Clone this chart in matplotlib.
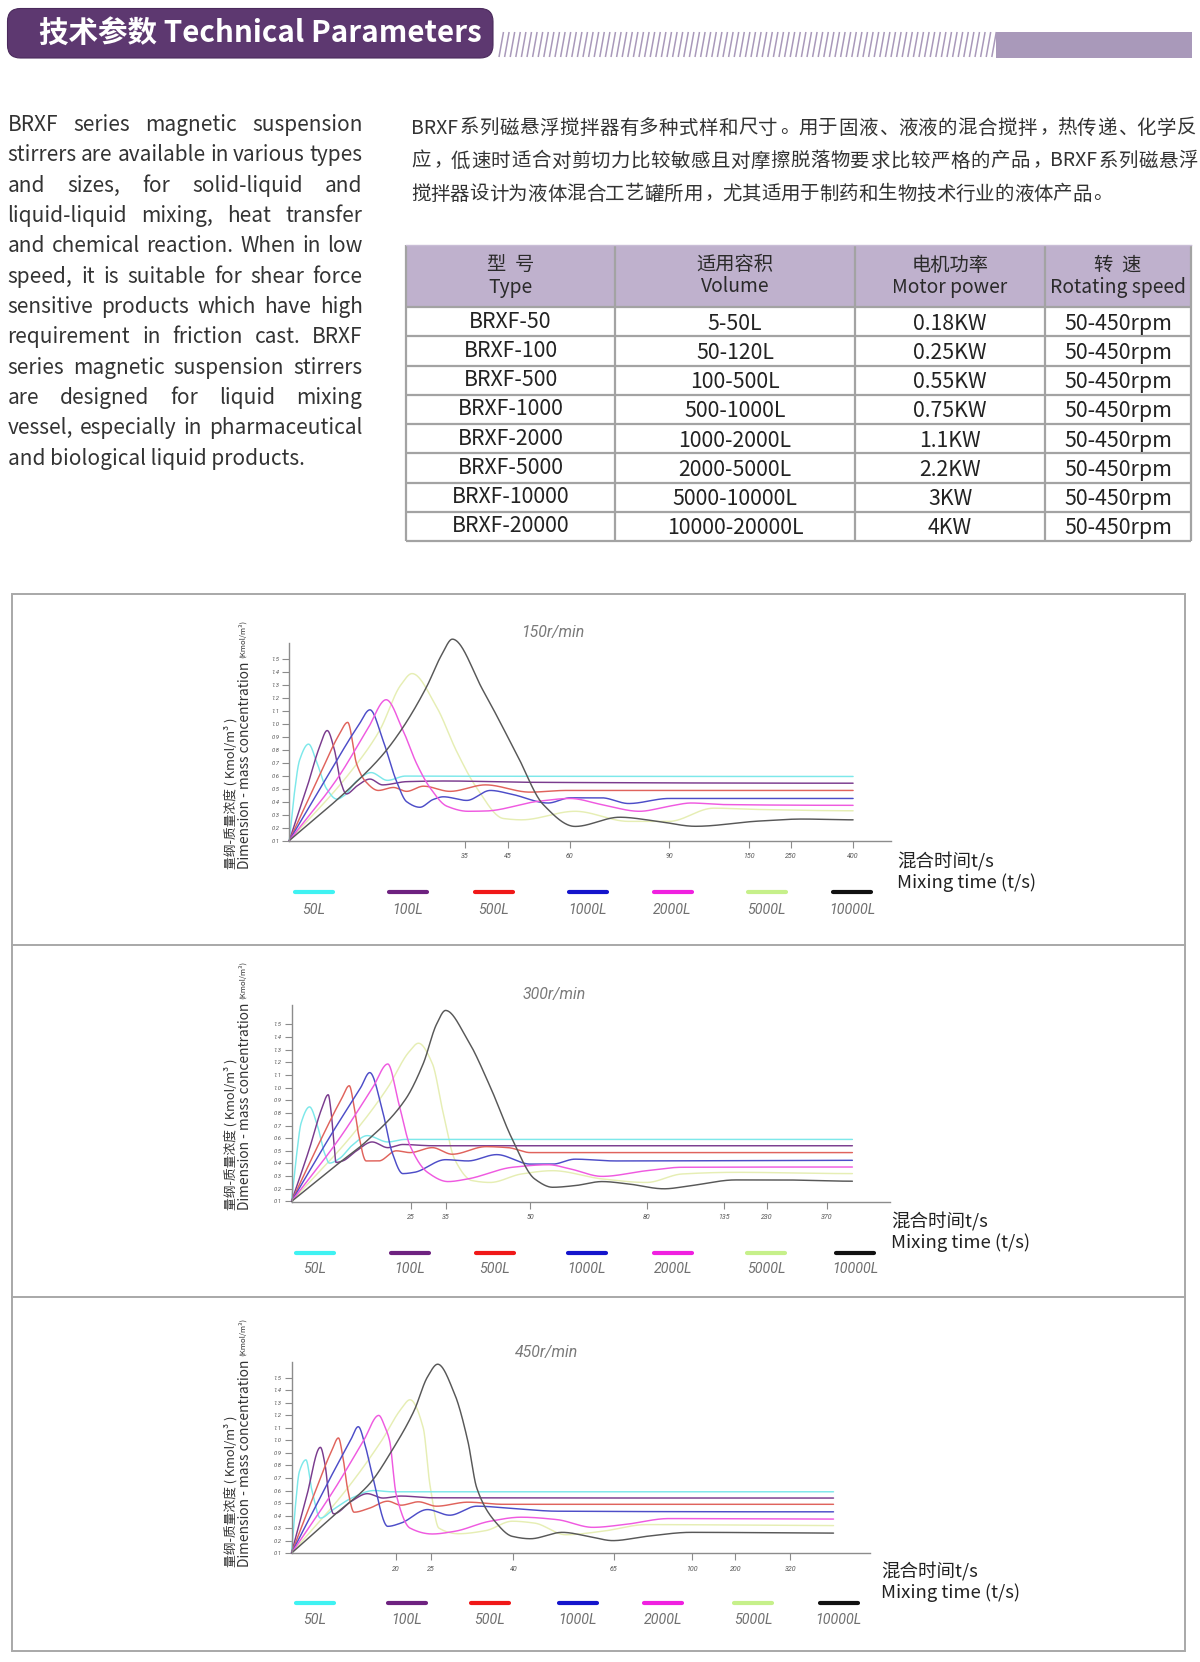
import re
import numpy as np
import matplotlib
matplotlib.use("Agg")
import matplotlib.pyplot as plt
from matplotlib.patches import FancyBboxPatch, Rectangle
from matplotlib.collections import LineCollection

# ------------------------------------------------------------------ data
HEADER_TITLE = "技术参数 Technical Parameters"

EN_LINES = [
    "BRXF series magnetic suspension",
    "stirrers are available in various types",
    "and sizes, for solid-liquid and",
    "liquid-liquid mixing, heat transfer",
    "and chemical reaction. When in low",
    "speed, it is suitable for shear force",
    "sensitive products which have high",
    "requirement in friction cast. BRXF",
    "series magnetic suspension stirrers",
    "are designed for liquid mixing",
    "vessel, especially in pharmaceutical",
    "and biological liquid products.",
]
CN_LINES = [
    "BRXF系列磁悬浮搅拌器有多种式样和尺寸。用于固液、液液的混合搅拌，热传递、化学反",
    "应，低速时适合对剪切力比较敏感且对摩擦脱落物要求比较严格的产品， BRXF系列磁悬浮",
    "搅拌器设计为液体混合工艺罐所用，尤其适用于制药和生物技术行业的液体产品。",
]

HEAD_CN = ["型  号", "适用容积", "电机功率", "转  速"]
HEAD_EN = ["Type", "Volume", "Motor power", "Rotating speed"]
MODEL = ["BRXF-50", "BRXF-100", "BRXF-500", "BRXF-1000", "BRXF-2000",
         "BRXF-5000", "BRXF-10000", "BRXF-20000"]
VOLUME = ["5-50L", "50-120L", "100-500L", "500-1000L", "1000-2000L",
          "2000-5000L", "5000-10000L", "10000-20000L"]
POWER = ["0.18KW", "0.25KW", "0.55KW", "0.75KW", "1.1KW", "2.2KW", "3KW", "4KW"]
SPEED = ["50-450rpm"] * 8

SERIES = ["50L", "100L", "500L", "1000L", "2000L", "5000L", "10000L"]
Y_TICKS = [0.1, 0.2, 0.3, 0.4, 0.5, 0.6, 0.7, 0.8, 0.9, 1.0, 1.1, 1.2, 1.3, 1.4, 1.5]

X_LAB_150 = ["35", "45", "60", "90", "150", "250", "400"]
X_POS_150 = [29.2, 36.3, 46.6, 63.1, 76.4, 83.4, 93.7]
X_LAB_300 = ["25", "35", "50", "80", "135", "230", "370"]
X_POS_300 = [19.9, 25.6, 39.7, 59.0, 71.8, 79.0, 89.0]
X_LAB_450 = ["20", "25", "40", "65", "100", "200", "320"]
X_POS_450 = [17.4, 23.2, 36.9, 53.6, 66.6, 73.8, 82.9]

# curves: (position on axis, concentration)
c150_50L = [(0, 0.1), (0.8, 0.45), (1.7, 0.72), (3.2, 0.845), (4.6, 0.7), (6.2, 0.5), (7.9, 0.42),
            (9.2, 0.45), (11.2, 0.56), (13.6, 0.625), (16.3, 0.565), (19.3, 0.598), (26, 0.597), (93.7, 0.595)]
c150_100L = [(0, 0.1), (3.0, 0.52), (5.0, 0.82), (6.3, 0.95), (7.5, 0.8), (8.5, 0.56), (9.5, 0.46),
             (11.2, 0.52), (13.4, 0.575), (15.5, 0.53), (19.5, 0.555), (26, 0.56), (40, 0.55), (93.7, 0.543)]
c150_500L = [(0, 0.1), (5, 0.6), (8.3, 0.92), (9.7, 1.013), (11.2, 0.69), (12.6, 0.56), (14.8, 0.487),
             (17.3, 0.51), (19.5, 0.48), (22.3, 0.52), (26.7, 0.48), (32.6, 0.53), (40, 0.474), (46, 0.487),
             (93.7, 0.487)]
c150_1000L = [(0, 0.1), (7, 0.65), (11.5, 0.99), (13.4, 1.11), (15.6, 0.87), (17.8, 0.56), (19.5, 0.40),
              (21.7, 0.357), (23.9, 0.417), (25.6, 0.438), (29.5, 0.41), (33.4, 0.487), (37.1, 0.456),
              (43, 0.39), (46.7, 0.43), (51.9, 0.43), (56.4, 0.386), (63.1, 0.425), (93.7, 0.425)]
c150_2000L = [(0, 0.1), (8, 0.58), (13, 0.96), (16.1, 1.188), (18.9, 0.95), (21.2, 0.69), (23.4, 0.507),
              (26.2, 0.365), (29.7, 0.326), (32.6, 0.328), (41.5, 0.404), (46.7, 0.425), (51.9, 0.378),
              (58.2, 0.326), (63.1, 0.365), (66.8, 0.39), (72, 0.378), (93.7, 0.372)]
c150_5000L = [(0, 0.1), (10, 0.62), (15, 0.95), (18.5, 1.3), (20.4, 1.39), (24.5, 1.13), (27.8, 0.79),
              (31.1, 0.51), (35.6, 0.27), (38.6, 0.26), (47.5, 0.326), (56.4, 0.248), (63.1, 0.248),
              (70.5, 0.35), (77.9, 0.34), (93.7, 0.33)]
c150_10000L = [(0, 0.1), (10.1, 0.507), (15.6, 0.767), (18.9, 0.975), (22.8, 1.286), (25.3, 1.533),
               (27.1, 1.656), (32.2, 1.26), (37.8, 0.767), (42.2, 0.378), (47.5, 0.209), (54.9, 0.28),
               (61, 0.25), (67.5, 0.21), (77.9, 0.25), (85.3, 0.266), (93.7, 0.26)]

c300_50L = [(0, 0.1), (0.8, 0.45), (1.6, 0.72), (3.0, 0.847), (4.3, 0.7), (5.5, 0.48), (6.3, 0.403),
            (8, 0.44), (10, 0.54), (12.6, 0.62), (16, 0.57), (18.9, 0.59), (25, 0.59), (93.2, 0.59)]
c300_100L = [(0, 0.1), (3, 0.52), (5, 0.83), (6.1, 0.943), (6.6, 0.8), (7.0, 0.59), (7.4, 0.408),
             (8.5, 0.42), (10.8, 0.5), (13.4, 0.57), (16, 0.525), (18.5, 0.55), (23.4, 0.54), (93.2, 0.54)]
c300_500L = [(0, 0.1), (5, 0.6), (8.3, 0.91), (9.6, 1.014), (10.4, 0.85), (11.1, 0.64), (12.4, 0.42),
             (14.5, 0.42), (17.4, 0.5), (19.7, 0.486), (23.4, 0.525), (26.7, 0.473), (32.3, 0.533),
             (36, 0.525), (39.7, 0.486), (93.2, 0.486)]
c300_1000L = [(0, 0.1), (7, 0.66), (11.5, 1.0), (13, 1.118), (15.2, 0.8), (16.7, 0.49), (18.5, 0.32),
              (20.4, 0.33), (25.6, 0.43), (29.3, 0.42), (34.1, 0.47), (39.7, 0.395), (43.4, 0.395),
              (47.1, 0.434), (53.8, 0.42), (93.2, 0.425)]
c300_2000L = [(0, 0.1), (8, 0.6), (13.5, 1.0), (16, 1.186), (17.8, 0.88), (19.7, 0.54), (22.6, 0.33),
              (26, 0.257), (29.3, 0.278), (36.7, 0.37), (42.7, 0.39), (46.4, 0.356), (51.6, 0.298),
              (59, 0.343), (64.9, 0.37), (93.2, 0.372)]
c300_5000L = [(0, 0.1), (10, 0.62), (16, 1.0), (19.5, 1.28), (21.1, 1.35), (23.4, 1.19), (25.2, 0.8),
              (27.1, 0.434), (30, 0.265), (33, 0.25), (38.2, 0.317), (43.4, 0.343), (51.6, 0.278),
              (59, 0.25), (64.9, 0.317), (73.8, 0.33), (93.2, 0.32)]
c300_10000L = [(0, 0.1), (7, 0.37), (12.2, 0.565), (18.9, 0.904), (21.9, 1.19), (24.1, 1.5), (25.6, 1.609),
               (29.3, 1.374), (33, 1.008), (36.7, 0.59), (40.4, 0.278), (43.4, 0.212), (47.1, 0.225),
               (51.6, 0.257), (56, 0.238), (61.9, 0.2), (66.4, 0.225), (73.8, 0.27), (81.2, 0.27),
               (93.2, 0.26)]

c450_50L = [(0, 0.1), (0.6, 0.45), (1.3, 0.75), (2.4, 0.845), (3.4, 0.6), (4.8, 0.38), (7, 0.45),
            (10, 0.54), (13.7, 0.6), (16.7, 0.59), (22, 0.59), (90.1, 0.59)]
c450_100L = [(0, 0.1), (2.5, 0.55), (4.8, 0.945), (5.6, 0.8), (6.3, 0.52), (7, 0.414), (10, 0.516),
             (12.6, 0.575), (15.2, 0.54), (18.2, 0.556), (23.4, 0.542), (90.1, 0.54)]
c450_500L = [(0, 0.1), (4, 0.6), (6.7, 0.92), (7.8, 1.02), (8.6, 0.85), (9.3, 0.62), (10.4, 0.427),
             (13, 0.46), (16, 0.515), (18.2, 0.483), (21.1, 0.51), (24.1, 0.475), (29.3, 0.507),
             (35.2, 0.49), (90.1, 0.49)]
c450_1000L = [(0, 0.1), (6, 0.66), (9.8, 1.0), (11.1, 1.11), (12.3, 0.95), (13.4, 0.73), (16, 0.314),
              (18.2, 0.34), (22.6, 0.448), (26.3, 0.403), (30.8, 0.475), (36.7, 0.457), (44.1, 0.435),
              (90.1, 0.43)]
c450_2000L = [(0, 0.1), (7, 0.6), (12, 1.0), (14.5, 1.2), (15.6, 1.1), (16.3, 1.0), (17.4, 0.57),
              (19.7, 0.3), (23.4, 0.253), (27.1, 0.274), (33, 0.355), (38.2, 0.387), (44.1, 0.368),
              (50.1, 0.306), (55.3, 0.328), (62.7, 0.376), (90.1, 0.372)]
c450_5000L = [(0, 0.1), (9, 0.6), (15, 1.0), (18.2, 1.25), (19.7, 1.325), (21.9, 1.1), (23, 0.65),
              (24.5, 0.3), (27.8, 0.255), (32.3, 0.28), (36.7, 0.355), (40.4, 0.34), (45.6, 0.247),
              (51.6, 0.274), (59, 0.328), (90.1, 0.32)]
c450_10000L = [(0, 0.1), (7, 0.40), (13, 0.655), (16.7, 0.92), (20.4, 1.24), (22.6, 1.507), (24.3, 1.609),
               (27.1, 1.373), (29.3, 0.998), (30.8, 0.62), (33.8, 0.355), (36.7, 0.234), (39.7, 0.215),
               (45, 0.266), (49.4, 0.234), (53.4, 0.2), (59, 0.234), (66.4, 0.266), (90.1, 0.26)]

# ------------------------------------------------------------------ styles
LINE_COLORS = ['#7de8ea', '#7a3b8e', '#e0635c', '#4d4dc8', '#ef5ae0', '#e6eeb4', '#585858']
LEGEND_COLORS = ['#3ff2f2', '#6e2280', '#f01818', '#1414cc', '#f020e0', '#c6f08a', '#111111']
DRAW_ORDER = [5, 0, 1, 2, 3, 4, 6]
CJK = ['Noto Sans CJK SC', 'DejaVu Sans']
PURPLE = '#5d3870'
STRIPE = '#a999ba'

W, H = 1200, 1662
fig = plt.figure(figsize=(12, 16.62), dpi=100)
fig.patch.set_facecolor('white')
bg = fig.add_axes([0, 0, 1, 1])
bg.set_xlim(0, W)
bg.set_ylim(H, 0)
bg.axis('off')
R = fig.canvas.get_renderer()


def width_of(t):
    return t.get_window_extent(R).width


def fit_text(x, y, s, width, size0=10, rot=0, **kw):
    t = bg.text(x, y, s, fontsize=size0, **kw)
    t.set_fontsize(size0 * width / width_of(t))
    if rot:
        t.set_rotation(rot)
    return t


# ------------------------------------------------------------------ header bar
bg.add_patch(FancyBboxPatch((7.5, 8.5), 485.5, 49.5, boxstyle="round,pad=0,rounding_size=13",
                            fc=PURPLE, ec='#4a2a5c', lw=0.8))
fit_text(39, 33, HEADER_TITLE, 444, family=CJK, weight='bold', color='white', ha='left', va='center')
segs = []
xs = 499.0
while xs < 993:
    segs.append([(xs, 57), (xs + 4.5, 32)])
    xs += 5.6
bg.add_collection(LineCollection(segs, colors=STRIPE, linewidths=1.1))
bg.add_patch(Rectangle((996, 32), 196, 25.5, fc=STRIPE, ec='none'))

# ------------------------------------------------------------------ English paragraph
EN_FAM = ['Noto Sans CJK SC', 'DejaVu Sans']
X0, X1 = 7.5, 362.5
probe = bg.text(0, 0, EN_LINES[-1], fontsize=10, family=EN_FAM)
size_en = 10 * 299 / width_of(probe)
probe.remove()
for ln in EN_LINES[:-1]:
    words = ln.split()
    tot = 0
    for w in words:
        tt = bg.text(0, 0, w, fontsize=10, family=EN_FAM)
        tot += width_of(tt)
        tt.remove()
    em10 = 10 * 100 / 72
    need = tot + (len(words) - 1) * 0.22 * em10
    size_en = min(size_en, 10 * (X1 - X0) / need)

for i, ln in enumerate(EN_LINES):
    yb = 131 + 30.33 * i
    if i == len(EN_LINES) - 1:
        bg.text(X0, yb, ln, fontsize=size_en, family=EN_FAM, color='#333333', ha='left', va='baseline')
        continue
    words = ln.split()
    ts, ws = [], []
    for w in words:
        t = bg.text(X0, yb, w, fontsize=size_en, family=EN_FAM, color='#333333', ha='left', va='baseline')
        ts.append(t)
        ws.append(width_of(t))
    gap = (X1 - X0 - sum(ws)) / (len(words) - 1)
    x = X0
    for t, w in zip(ts, ws):
        t.set_x(x)
        x += w + gap

# ------------------------------------------------------------------ Chinese paragraph
CN_SIZE = 14.0
EM = CN_SIZE * 100 / 72
PUNCT = "，。、；："


def cjk_line(s, x0, x1, yb, justify):
    toks = re.findall(r'[A-Za-z0-9]+|\S', s)
    items = []
    for tk in toks:
        if re.match(r'[A-Za-z0-9]+$', tk):
            t = bg.text(0, yb, tk, fontsize=CN_SIZE, family=CJK, color='#333333', ha='left', va='baseline')
            items.append((t, width_of(t) + 0.06 * EM, 'latin'))
        else:
            kind = 'punct' if tk in PUNCT else 'cjk'
            t = bg.text(0, yb, tk, fontsize=CN_SIZE, family=CJK, color='#333333',
                        ha='center' if kind == 'cjk' else 'left', va='baseline')
            items.append((t, EM, kind))
    total = sum(w for _, w, _ in items)
    gap = (x1 - x0 - total) / (len(items) - 1) if justify else 0
    x = x0
    for t, w, kind in items:
        if kind == 'cjk':
            t.set_x(x + w / 2)
        elif kind == 'punct':
            t.set_x(x + 0.1 * EM)
        else:
            t.set_x(x + 0.02 * EM)
        x += w + gap


cjk_line(CN_LINES[0], 411, 1196, 133.5, True)
cjk_line(CN_LINES[1], 411, 1198, 166.5, True)
cjk_line(CN_LINES[2], 411, 1196, 199.5, False)

# ------------------------------------------------------------------ table
COLS = [406, 615, 855, 1045, 1191]
T_TOP, T_HEAD, T_BOT = 245, 307, 541
nrow = len(MODEL)
rh = (T_BOT - T_HEAD) / nrow
bg.add_patch(Rectangle((COLS[0], T_TOP), COLS[-1] - COLS[0], T_HEAD - T_TOP, fc='#bfb1cd', ec='none'))
GRID = '#a3a3a3'
for cx in COLS:
    bg.plot([cx, cx], [T_TOP, T_BOT], color=GRID, lw=1.6, solid_capstyle='butt')
bg.plot([COLS[0], COLS[-1]], [T_TOP, T_TOP], color='#c9bdd6', lw=1.0)
for k in range(nrow + 1):
    yy = T_HEAD + k * rh
    bg.plot([COLS[0], COLS[-1]], [yy, yy], color=GRID, lw=1.6, solid_capstyle='butt')

probe = bg.text(0, 0, HEAD_EN[3], fontsize=10, family=CJK)
head_size = 10 * 136 / width_of(probe)
probe.remove()
probe = bg.text(0, 0, MODEL[-1], fontsize=10, family=CJK)
cell_size = 10 * 118 / width_of(probe)
probe.remove()

for j in range(4):
    cx = (COLS[j] + COLS[j + 1]) / 2
    bg.text(cx, 265, HEAD_CN[j], fontsize=head_size, family=CJK, color='#2a2a2a', ha='center', va='center')
    bg.text(cx, 287, HEAD_EN[j], fontsize=head_size, family=CJK, color='#2a2a2a', ha='center', va='center')
for i in range(nrow):
    cy = T_HEAD + (i + 0.5) * rh
    for j, col in enumerate([MODEL, VOLUME, POWER, SPEED]):
        cx = (COLS[j] + COLS[j + 1]) / 2
        bg.text(cx, cy + (0 if j == 0 else 2), col[i], fontsize=cell_size, family=CJK,
                color='#222222', ha='center', va='center')

# ------------------------------------------------------------------ chart panels
PANEL = '#a8a8a8'
bg.add_patch(Rectangle((12, 594), 1173, 1056.5, fc='none', ec=PANEL, lw=1.4))
bg.plot([12, 1185], [944.5, 944.5], color=PANEL, lw=1.4)
bg.plot([12, 1185], [1296.5, 1296.5], color=PANEL, lw=1.4)


def pchip(pts, n=1800):
    x = np.array([p[0] for p in pts], float)
    y = np.array([p[1] for p in pts], float)
    h = np.diff(x)
    d = np.diff(y) / h
    m = np.zeros_like(y)
    for k in range(1, len(x) - 1):
        if d[k - 1] * d[k] > 0:
            w1 = 2 * h[k] + h[k - 1]
            w2 = h[k] + 2 * h[k - 1]
            m[k] = (w1 + w2) / (w1 / d[k - 1] + w2 / d[k])
    m[0] = d[0]
    m[-1] = 0.0
    xx = np.linspace(x[0], x[-1], n)
    idx = np.clip(np.searchsorted(x, xx, side='right') - 1, 0, len(h) - 1)
    t = (xx - x[idx]) / h[idx]
    h00 = 2 * t ** 3 - 3 * t ** 2 + 1
    h10 = t ** 3 - 2 * t ** 2 + t
    h01 = -2 * t ** 3 + 3 * t ** 2
    h11 = t ** 3 - t ** 2
    yy = h00 * y[idx] + h10 * h[idx] * m[idx] + h01 * y[idx + 1] + h11 * h[idx] * m[idx + 1]
    return xx, yy


CHARTS = [
    dict(curves=[c150_50L, c150_100L, c150_500L, c150_1000L, c150_2000L, c150_5000L, c150_10000L],
         xpos=X_POS_150, xlab=X_LAB_150, title='150r/min', box=(289.3, 891.0, 643.3, 840.7),
         xmax=100.0, ylim=(0.0987, 1.624), leg_x=[313.5, 408, 493.5, 587.5, 672.5, 766.5, 852],
         leg_y=892, lab_y=910, ylab_bottom=869, mix=(897, 862, 883), tpos=(553, 633)),
    dict(curves=[c300_50L, c300_100L, c300_500L, c300_1000L, c300_2000L, c300_5000L, c300_10000L],
         xpos=X_POS_300, xlab=X_LAB_300, title='300r/min', box=(291.5, 889.7, 1005.0, 1201.7),
         xmax=99.4, ylim=(0.098, 1.652), leg_x=[315, 410, 495, 587, 673, 766, 855],
         leg_y=1253, lab_y=1269, ylab_bottom=1210, mix=(891, 1222, 1243), tpos=(554, 994)),
    dict(curves=[c450_50L, c450_100L, c450_500L, c450_1000L, c450_2000L, c450_5000L, c450_10000L],
         xpos=X_POS_450, xlab=X_LAB_450, title='450r/min', box=(291.5, 869.6, 1361.7, 1553.3),
         xmax=96.1, ylim=(0.0987, 1.629), leg_x=[315, 407, 490, 578, 663, 753, 838.5],
         leg_y=1603, lab_y=1620, ylab_bottom=1567, mix=(881, 1572, 1593), tpos=(547, 1353)),
]

AXC = '#8c8c8c'
probe = bg.text(0, 0, SERIES[-1], fontsize=10, family='Roboto', style='italic')
leg_size = 10 * 46 / width_of(probe)
probe.remove()
probe = bg.text(0, 0, '150r/min', fontsize=10, family='Roboto', style='italic')
title_size = 10 * 63 / width_of(probe)
probe.remove()
probe = bg.text(0, 0, 'Mixing time (t/s)', fontsize=10, family=CJK)
mix_size = 10 * 139 / width_of(probe)
probe.remove()

for ch in CHARTS:
    l, r, t, b = ch['box']
    ax = fig.add_axes([l / W, 1 - b / H, (r - l) / W, (b - t) / H])
    ax.set_facecolor('none')
    ax.set_xlim(0, ch['xmax'])
    ax.set_ylim(*ch['ylim'])
    for s in ['top', 'right']:
        ax.spines[s].set_visible(False)
    for s in ['left', 'bottom']:
        ax.spines[s].set_color(AXC)
        ax.spines[s].set_linewidth(1.0)
    ax.set_yticks(Y_TICKS, ['%.1f' % v for v in Y_TICKS], fontstyle='italic', family='Roboto')
    ax.set_xticks(ch['xpos'], ch['xlab'], fontstyle='italic', family='Roboto')
    ax.tick_params(axis='y', direction='out', length=5, width=0.8, color=AXC, labelsize=4.2,
                   labelcolor='#555555', pad=2)
    ax.tick_params(axis='x', direction='out', length=5, width=0.8, color=AXC, labelsize=5,
                   labelcolor='#555555', pad=4)
    for k in DRAW_ORDER:
        xx, yy = pchip(ch['curves'][k])
        ax.plot(xx, yy, color=LINE_COLORS[k], lw=1.05, clip_on=False, solid_capstyle='round')

    bg.text(ch['tpos'][0], ch['tpos'][1], ch['title'], fontsize=title_size, family='Roboto',
            style='italic', color='#7a7a7a', ha='center', va='center')
    mx, my1, my2 = ch['mix']
    bg.text(mx, my1, '混合时间t/s', fontsize=mix_size, family=CJK, color='#222222', ha='left', va='center')
    bg.text(mx, my2, 'Mixing time (t/s)', fontsize=mix_size, family=CJK, color='#222222',
            ha='left', va='center')
    for k in range(len(SERIES)):
        cx = ch['leg_x'][k]
        bg.plot([cx - 19, cx + 19], [ch['leg_y'], ch['leg_y']], color=LEGEND_COLORS[k], lw=3.0,
                solid_capstyle='round')
        bg.text(cx, ch['lab_y'], SERIES[k], fontsize=leg_size, family='Roboto', style='italic',
                color='#707070', ha='center', va='center')
    yb = ch['ylab_bottom']
    fit_text(231, yb, '量纲-质量浓度 ( Kmol/m³ )', 152, rot=90, family=CJK, color='#333333',
             ha='left', va='center', rotation_mode='anchor')
    en = fit_text(245, yb, 'Dimension - mass concentration', 207, rot=90, family=CJK,
                  color='#333333', ha='left', va='center', rotation_mode='anchor')
    top_disp = en.get_window_extent(R).y1
    fit_text(243, H - top_disp - 4, '(Kmol/m³)', 38, rot=90, family=CJK, color='#333333',
             ha='left', va='center', rotation_mode='anchor')

fig.savefig('out.png', dpi=100)
